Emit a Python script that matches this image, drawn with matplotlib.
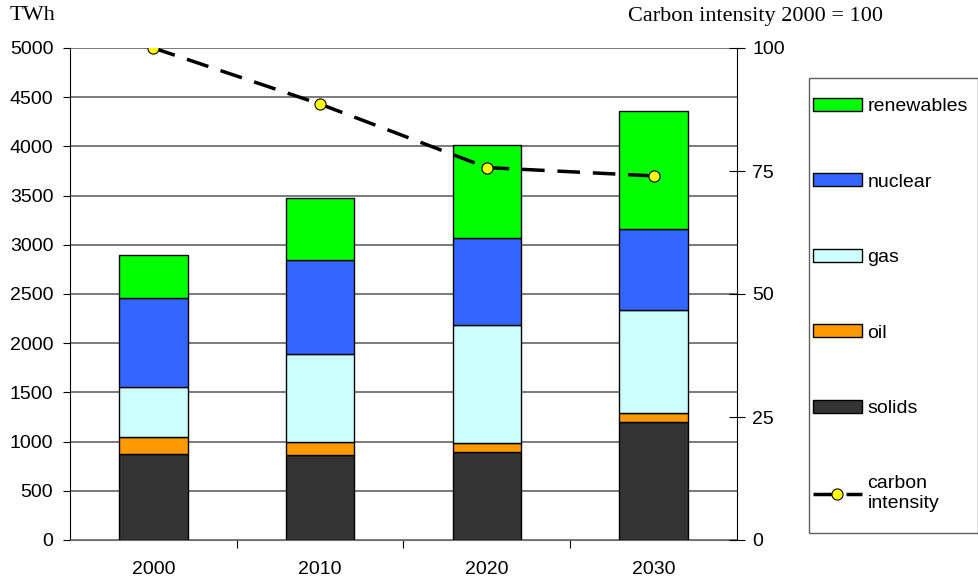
import numpy as np
import matplotlib.pyplot as plt
from matplotlib.patches import Patch, Rectangle
from matplotlib.lines import Line2D

years = ['2000', '2010', '2020', '2030']
solids = [870, 865, 890, 1195]
oil = [175, 135, 100, 95]
gas = [505, 890, 1190, 1050]
nuclear = [910, 960, 890, 820]
renewables = [440, 630, 940, 1200]
carbon = [100, 88.6, 75.7, 74.0]

series = [('solids', solids, '#333333'),
          ('oil', oil, '#ff9900'),
          ('gas', gas, '#ccffff'),
          ('nuclear', nuclear, '#3366ff'),
          ('renewables', renewables, '#00ff00')]

plt.rcParams['font.family'] = ['Liberation Sans', 'DejaVu Sans']
W, H = 979, 580

fig = plt.figure(figsize=(W / 100, H / 100), dpi=100)
ax = fig.add_axes([70 / W, 40 / H, 667 / W, 492 / H])

x = np.arange(len(years))
bottom = np.zeros(len(years))
for name, vals, col in series:
    ax.bar(x, vals, 0.41, bottom=bottom, color=col, edgecolor='black', linewidth=1, zorder=3)
    bottom += np.array(vals)

ax.set_xlim(-0.5, 3.5)
ax.set_ylim(0, 5000)
ax.set_yticks(np.arange(0, 5001, 500))
ax.tick_params(axis='y', labelsize=14, direction='out', length=5, pad=7)
ax.set_xticks(x[:-1] + 0.5)
ax.set_xticklabels([])
ax.set_xticks(x, minor=True)
ax.set_xticklabels(years, minor=True, fontsize=14)
ax.tick_params(axis='x', which='major', direction='out', length=6)
ax.tick_params(axis='x', which='minor', length=0, pad=15)
ax.grid(axis='y', color='#707070', linewidth=1.3, zorder=0)
ax.set_axisbelow(True)
ax.spines['top'].set_visible(False)
ax.spines['right'].set_visible(False)
ax.spines['bottom'].set_color('#707070')

ax2 = ax.twinx()
ax2.set_ylim(0, 100)
ax2.set_yticks([0, 25, 50, 75, 100])
ax2.tick_params(axis='y', labelsize=14, direction='inout', length=12, pad=5)
ax2.spines['top'].set_visible(False)
ax2.spines['left'].set_visible(False)
ax2.spines['bottom'].set_visible(False)
ax2.plot(x, carbon, color='black', linewidth=2.5, dashes=(6.5, 3.7), marker='o',
         markersize=8, markerfacecolor='#ffff00', markeredgecolor='black',
         markeredgewidth=0.8, zorder=5)

fig.text(10 / W, 1 - 16 / H, 'TWh', fontsize=16, family='Liberation Serif',
         va='center', ha='left')
fig.text(883 / W, 1 - 16 / H, 'Carbon intensity 2000 = 100', fontsize=16,
         family='Liberation Serif', va='center', ha='right')

# legend box drawn by hand, entries placed inside it
fig.patches.append(Rectangle((809 / W, 1 - 533 / H), 169 / W, 455 / H,
                             transform=fig.transFigure, facecolor='white',
                             edgecolor='#606060', linewidth=1, zorder=1))
handles = [Patch(facecolor=col, edgecolor='black', label=name)
           for name, vals, col in series[::-1]]
handles.append(Line2D([0], [0], color='black', linewidth=2.5, dashes=(7, 2.5),
                      marker='o', markersize=8, markerfacecolor='#ffff00',
                      markeredgecolor='black', markeredgewidth=0.8,
                      label='carbon\nintensity'))
leg = fig.legend(handles=handles, loc='upper left',
                 bbox_to_anchor=(813 / W, 1 - 98 / H), fontsize=14,
                 labelspacing=3.0, handlelength=2.5, handleheight=0.62,
                 handletextpad=0.3, borderpad=0, borderaxespad=0,
                 frameon=False)
leg.set_zorder(2)

fig.savefig('out.png', dpi=100)
